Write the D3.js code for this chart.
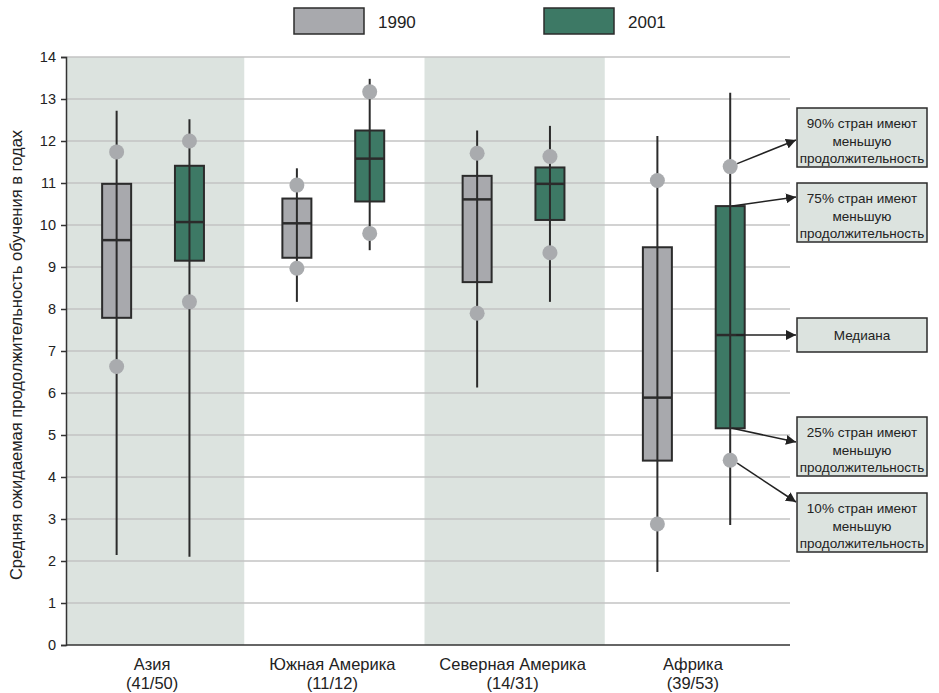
<!DOCTYPE html>
<html><head><meta charset="utf-8">
<script src="https://cdn.jsdelivr.net/npm/d3@7"></script>
<style>body{margin:0;background:#fff}svg{display:block;font-family:"Liberation Sans",Arial,sans-serif}</style>
</head><body><svg id="c" width="939" height="693"></svg>
<script>
const categories = ["Азия", "Южная Америка", "Северная Америка", "Африка"];
const counts = ["(41/50)", "(11/12)", "(14/31)", "(39/53)"];
const years = ["1990", "2001"];
// [min, p10, q1, median, q3, p90, max]
const stats1990 = [
  [2.14, 6.63, 7.79, 9.64, 10.98, 11.74, 12.72],
  [8.17, 8.97, 9.22, 10.04, 10.63, 10.95, 11.35],
  [6.13, 7.90, 8.64, 10.61, 11.17, 11.71, 12.25],
  [1.74, 2.88, 4.39, 5.89, 9.47, 11.06, 12.12]
];
const stats2001 = [
  [2.10, 8.17, 9.15, 10.07, 11.41, 12.00, 12.52],
  [9.40, 9.80, 10.56, 11.58, 12.25, 13.17, 13.48],
  [8.17, 9.34, 10.12, 10.98, 11.37, 11.63, 12.36],
  [2.86, 4.40, 5.16, 7.38, 10.45, 11.39, 13.15]
];
const yTicks = d3.range(0, 15);
const annotations = [
  {key: 5, lines: ["90% стран имеют", "меньшую", "продолжительность"]},
  {key: 4, lines: ["75% стран имеют", "меньшую", "продолжительность"]},
  {key: 3, lines: ["Медиана"]},
  {key: 2, lines: ["25% стран имеют", "меньшую", "продолжительность"]},
  {key: 1, lines: ["10% стран имеют", "меньшую", "продолжительность"]}
];

const colors = {"1990": "#a8a9ad", "2001": "#3d7965"};
const svg = d3.select("#c");
const L = 66, R = 790, T = 57, B = 645;
const x = d3.scaleBand().domain(categories).range([64, 785]);
const xs = d3.scalePoint().domain(years).range([0.292, 0.696]);
const y = d3.scaleLinear().domain([0, 14]).range([B, T]);
const bw = 29;

// bands
svg.selectAll("rect.band").data(categories).join("rect")
  .attr("x", d => Math.max(L, x(d))).attr("y", T)
  .attr("width", d => x(d) + x.bandwidth() - Math.max(L, x(d))).attr("height", B - T)
  .attr("fill", (d, i) => i % 2 === 0 ? "#dce3df" : "none");

// grid
svg.selectAll("line.grid").data(yTicks.filter(t => t > 0)).join("line")
  .attr("x1", L).attr("x2", R).attr("y1", d => y(d)).attr("y2", d => y(d))
  .attr("stroke", "#c3c3c3").attr("stroke-width", 1.6);

// axes
const yAxis = svg.append("g").attr("transform", `translate(${L},0)`)
  .call(d3.axisLeft(y).tickValues(yTicks).tickSize(5).tickPadding(5));
yAxis.select(".domain").attr("stroke", "#333").attr("stroke-width", 1.5);
yAxis.selectAll(".tick line").attr("stroke", "#333").attr("stroke-width", 1.5);
yAxis.selectAll("text").attr("font-size", 14.5).attr("fill", "#222").attr("font-family", "Liberation Sans, Arial");
svg.append("line").attr("x1", L).attr("x2", R).attr("y1", B).attr("y2", B)
  .attr("stroke", "#333").attr("stroke-width", 1.5);

svg.append("text").attr("transform", `translate(22,${(T + B) / 2 + 4}) rotate(-90)`)
  .attr("text-anchor", "middle").attr("font-size", 16.5).attr("fill", "#222")
  .text("Средняя ожидаемая продолжительность обучения в годах");

// category labels
categories.forEach((c, i) => {
  const cx = x(c) + x.bandwidth() / 2 - 2;
  svg.append("text").attr("x", cx).attr("y", 670).attr("text-anchor", "middle")
    .attr("font-size", 16.5).attr("fill", "#222").text(c);
  svg.append("text").attr("x", cx).attr("y", 689).attr("text-anchor", "middle")
    .attr("font-size", 16.5).attr("fill", "#222").text(counts[i]);
});

function cxOf(ci, yr) { return x(categories[ci]) + xs(yr) * x.bandwidth(); }

function drawSeries(stats, yr) {
  const g = svg.append("g");
  stats.forEach((s, i) => {
    const cx = cxOf(i, yr);
    g.append("rect").attr("x", cx - bw / 2).attr("y", y(s[4])).attr("width", bw)
      .attr("height", y(s[2]) - y(s[4])).attr("fill", colors[yr])
      .attr("stroke", "#2b2b2b").attr("stroke-width", 2);
    g.append("line").attr("x1", cx).attr("x2", cx).attr("y1", y(s[6])).attr("y2", y(s[0]))
      .attr("stroke", "#2b2b2b").attr("stroke-width", 2);
    g.append("line").attr("x1", cx - bw / 2).attr("x2", cx + bw / 2).attr("y1", y(s[3])).attr("y2", y(s[3]))
      .attr("stroke", "#2b2b2b").attr("stroke-width", 2.5);
    [s[1], s[5]].forEach(v => g.append("circle").attr("cx", cx).attr("cy", y(v)).attr("r", 7.5)
      .attr("fill", "#a9abae"));
  });
}
drawSeries(stats1990, "1990");
drawSeries(stats2001, "2001");

// legend
[["1990", 294, 378], ["2001", 544, 628]].forEach(([yr, rx, tx]) => {
  svg.append("rect").attr("x", rx).attr("y", 8).attr("width", 70).attr("height", 26)
    .attr("fill", colors[yr]).attr("stroke", "#2b2b2b").attr("stroke-width", 1.5);
  svg.append("text").attr("x", tx).attr("y", 28).attr("font-size", 17).attr("fill", "#222").text(yr);
});

// annotations pointing to Africa 2001
svg.append("defs").append("marker").attr("id", "ah").attr("viewBox", "0 0 10 10")
  .attr("refX", 10).attr("refY", 5).attr("markerWidth", 10).attr("markerHeight", 10)
  .attr("markerUnits", "userSpaceOnUse").attr("orient", "auto")
  .append("path").attr("d", "M0,0 L10,5 L0,10 Z").attr("fill", "#222");
const boxTops = [108, 183, 318, 417, 493];
const afr = stats2001[3];
const acx = cxOf(3, "2001");
annotations.forEach((a, i) => {
  const h = a.lines.length === 1 ? 34 : 59;
  const top = boxTops[i];
  const bx = 797, bwid = 130;
  const isDot = a.key === 1 || a.key === 5;
  const isMed = a.key === 3;
  const sx = isDot ? acx + 7 : (isMed ? acx + 6 : acx + 2);
  const sy = y(afr[a.key]) - (a.key === 5 ? 3 : 0) + (a.key === 1 ? 3 : 0);
  const ty = isMed ? sy : top + (a.key === 5 ? 32 : a.key === 4 ? 14 : a.key === 2 ? 25 : 9);
  svg.append("line").attr("x1", sx).attr("y1", sy).attr("x2", bx - 1).attr("y2", ty)
    .attr("stroke", "#222").attr("stroke-width", 1.5).attr("marker-end", "url(#ah)");
  svg.append("rect").attr("x", bx).attr("y", top).attr("width", bwid).attr("height", h)
    .attr("fill", "#dce3df").attr("stroke", "#2b2b2b").attr("stroke-width", 1.5);
  a.lines.forEach((ln, j) => {
    svg.append("text").attr("x", bx + bwid / 2).attr("y", top + (a.lines.length === 1 ? 22 : 20 + j * 17.5))
      .attr("text-anchor", "middle").attr("font-size", 13.5).attr("fill", "#222").text(ln);
  });
});
</script></body></html>
